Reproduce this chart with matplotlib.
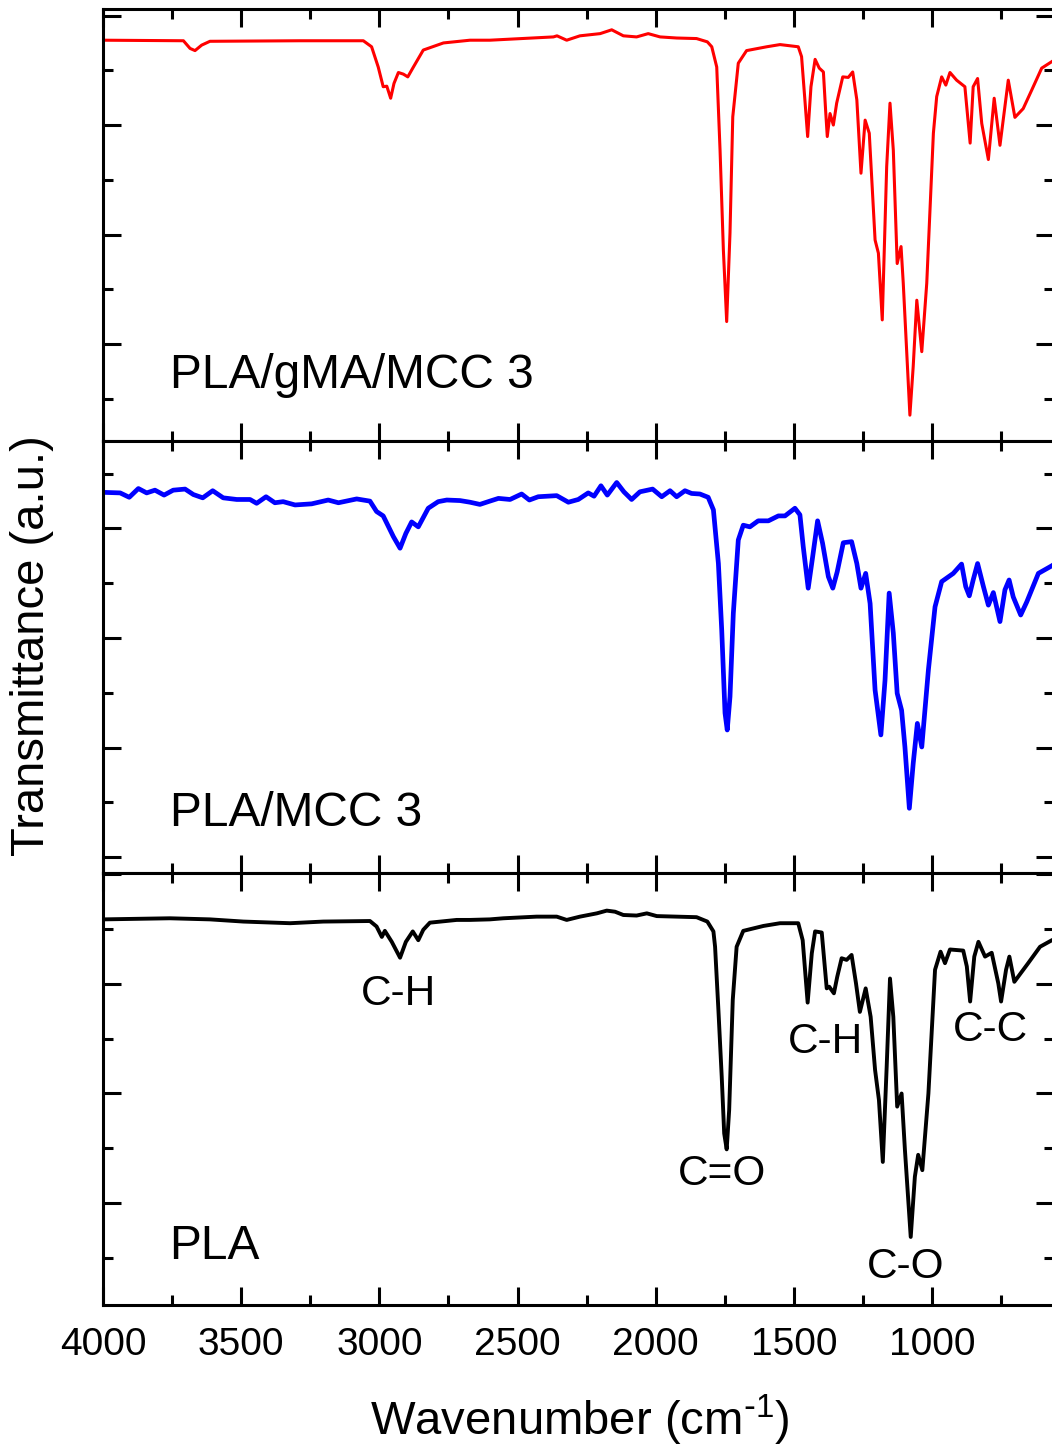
import matplotlib
matplotlib.use("Agg")
import matplotlib.pyplot as plt
from matplotlib.ticker import MultipleLocator

plt.rcParams['font.family'] = ['Liberation Sans', 'DejaVu Sans']

# ---------------- data ----------------
wn_gma = [3999, 3709, 3685, 3667, 3643, 3613, 3287, 3058, 3028, 3004, 2986, 2973, 2959,
          2947, 2931, 2913, 2897, 2879, 2841, 2768, 2672, 2600, 2370, 2357, 2322, 2274,
          2201, 2159, 2117, 2069, 2027, 1984, 1924, 1852, 1813, 1797, 1779, 1767, 1755,
          1743, 1731, 1721, 1701, 1671, 1598, 1550, 1484, 1472, 1460, 1450, 1438, 1423,
          1408, 1393, 1385, 1379, 1369, 1357, 1345, 1323, 1303, 1287, 1272, 1257, 1242,
          1227, 1206, 1194, 1180, 1164, 1152, 1140, 1126, 1112, 1104, 1080, 1068, 1055,
          1037, 1019, 995, 983, 965, 950, 935, 911, 881, 862, 851, 835, 820, 796, 775,
          754, 724, 700, 670, 639, 603, 566, 560]
t_gma = [75.5, 75.4, 74.0, 73.6, 74.6, 75.3, 75.4, 75.4, 74.3, 70.6, 67.0, 67.1, 64.9,
         67.6, 69.6, 69.3, 68.8, 70.4, 73.7, 75.0, 75.5, 75.5, 76.1, 76.3, 75.5, 76.3,
         76.7, 77.4, 76.3, 76.1, 76.7, 76.1, 75.9, 75.8, 75.2, 74.3, 70.6, 55.4, 37.2,
         24.1, 40.3, 61.5, 71.3, 73.6, 74.3, 74.7, 74.3, 72.5, 64.6, 57.9, 67.0, 72.0,
         70.4, 69.7, 62.7, 57.9, 62.1, 60.0, 64.0, 68.8, 68.7, 69.7, 64.6, 51.2, 60.9,
         58.5, 39.0, 36.6, 24.4, 52.4, 64.0, 55.4, 34.7, 37.8, 31.1, 7.0, 15.9, 28.0,
         18.6, 31.1, 58.5, 65.2, 68.8, 67.3, 69.6, 68.2, 67.0, 56.7, 67.0, 68.5, 60.3,
         53.7, 64.9, 56.3, 68.2, 61.4, 63.0, 66.4, 70.4, 71.6, 71.8]

wn_mcc = [3999, 3938, 3905, 3872, 3842, 3812, 3779, 3746, 3703, 3673, 3639, 3603, 3565,
          3516, 3468, 3444, 3410, 3378, 3348, 3305, 3245, 3185, 3148, 3082, 3034, 3010,
          2986, 2949, 2925, 2904, 2883, 2859, 2823, 2787, 2756, 2708, 2672, 2636, 2600,
          2569, 2527, 2485, 2457, 2425, 2358, 2316, 2280, 2244, 2223, 2198, 2175, 2141,
          2115, 2087, 2057, 2011, 1978, 1948, 1924, 1894, 1870, 1840, 1810, 1791, 1773,
          1761, 1749, 1741, 1731, 1719, 1701, 1683, 1659, 1629, 1592, 1556, 1532, 1496,
          1478, 1466, 1448, 1432, 1414, 1396, 1375, 1359, 1343, 1321, 1291, 1272, 1257,
          1240, 1224, 1206, 1185, 1170, 1155, 1140, 1126, 1110, 1098, 1082, 1068, 1053,
          1037, 1013, 989, 965, 923, 893, 878, 865, 851, 835, 814, 796, 778, 754, 736,
          721, 706, 679, 657, 615, 566, 560]
t_mcc = [86.6, 86.5, 85.7, 87.3, 86.5, 87.0, 86.1, 87.0, 87.2, 86.2, 85.6, 86.9, 85.6,
         85.3, 85.3, 84.6, 85.8, 84.7, 84.9, 84.3, 84.5, 85.2, 84.7, 85.4, 85.0, 83.1,
         82.3, 78.5, 76.4, 79.1, 81.2, 80.3, 83.7, 84.9, 85.2, 85.1, 84.8, 84.4, 85.0,
         85.5, 85.3, 86.3, 85.2, 85.8, 86.0, 84.8, 85.3, 86.5, 85.9, 87.8, 86.1, 88.4,
         86.7, 85.3, 86.7, 87.2, 85.8, 86.9, 85.8, 86.9, 86.4, 86.3, 85.7, 83.4, 73.6,
         61.5, 46.3, 43.2, 49.3, 64.5, 77.9, 80.6, 80.3, 81.4, 81.4, 82.3, 82.3, 83.7,
         82.5, 76.7, 69.1, 74.8, 81.4, 77.3, 71.2, 69.1, 72.1, 77.4, 77.6, 73.6, 69.1,
         71.8, 66.3, 50.5, 42.3, 52.3, 68.2, 60.9, 49.9, 46.8, 40.1, 28.9, 37.1, 44.4,
         40.1, 54.2, 65.7, 70.3, 71.8, 73.5, 69.4, 67.7, 70.6, 73.6, 69.4, 66.0, 68.3,
         63.0, 68.8, 70.6, 67.5, 64.2, 66.6, 71.8, 73.2, 73.4]

wn_pla = [3999, 3758, 3613, 3492, 3323, 3203, 3034, 3010, 2991, 2980, 2955, 2925, 2904,
          2879, 2859, 2841, 2817, 2720, 2672, 2600, 2551, 2431, 2358, 2322, 2274, 2213,
          2177, 2147, 2117, 2069, 2032, 1996, 1924, 1852, 1813, 1791, 1785, 1773, 1761,
          1752, 1743, 1734, 1721, 1707, 1683, 1610, 1550, 1484, 1468, 1450, 1435, 1423,
          1399, 1381, 1372, 1355, 1343, 1327, 1309, 1291, 1275, 1261, 1240, 1222, 1206,
          1192, 1178, 1164, 1152, 1140, 1126, 1110, 1098, 1077, 1062, 1050, 1035, 1013,
          989, 969, 953, 935, 887, 874, 862, 847, 832, 808, 784, 760, 750, 732, 720, 702,
          652, 609, 566, 560]
t_pla = [71.8, 72.0, 71.8, 71.4, 71.1, 71.4, 71.5, 70.5, 68.6, 69.7, 67.7, 64.8, 67.7,
         69.6, 68.0, 69.9, 71.2, 71.7, 71.7, 71.8, 72.0, 72.3, 72.3, 71.7, 72.3, 72.9,
         73.4, 73.2, 72.6, 72.5, 72.9, 72.4, 72.3, 72.2, 71.4, 69.6, 66.8, 55.3, 43.1,
         32.7, 29.8, 37.0, 57.1, 66.8, 69.7, 70.6, 71.1, 71.1, 68.0, 56.6, 65.6, 69.6,
         69.4, 59.2, 59.5, 58.3, 61.3, 64.7, 64.4, 65.3, 60.1, 54.9, 59.2, 54.0, 44.3,
         38.8, 27.5, 44.9, 61.0, 54.0, 37.6, 40.0, 29.7, 13.8, 24.8, 28.8, 26.0, 40.0,
         62.6, 65.9, 63.8, 66.3, 66.1, 63.2, 56.8, 65.0, 67.7, 65.0, 65.7, 60.1, 56.8,
         62.6, 65.0, 60.4, 63.8, 66.8, 68.0, 68.1]

panel_names = ["PLA/gMA/MCC 3", "PLA/MCC 3", "PLA"]
panel_colors = ["#ff0000", "#0000ff", "#000000"]
panel_ylims = [(2.28, 81.2), (17.08, 95.98), (1.37, 80.27)]

band_labels = ["C-H", "C=O", "C-H", "C-O", "C-C"]
band_x = [2929, 1760, 1384, 1094, 787]
band_y = [58.2, 25.3, 49.4, 8.3, 51.6]

x_ticks = [4000, 3500, 3000, 2500, 2000, 1500, 1000]

# ---------------- figure ----------------
W, H = 1052, 1449
fig = plt.figure(figsize=(W / 100, H / 100), dpi=100)

xl, xr = 4000, 560
px_per_unit = 829 / 3000
ax_w_px = (xl - xr) * px_per_unit
left = 103 / W
width = ax_w_px / W
tops = [9, 441, 873]
ph = 432

series = [(wn_gma, t_gma), (wn_mcc, t_mcc), (wn_pla, t_pla)]
lws = [2.2, 3.4, 2.8]
label_yfrac = [0.151, 0.137, 0.135]
axes = []
for i in range(3):
    bottom = (H - tops[i] - ph) / H
    ax = fig.add_axes([left, bottom, width, ph / H])
    axes.append(ax)
    x, y = series[i]
    ax.plot(x, y, color=panel_colors[i], lw=lws[i], solid_joinstyle='round')
    ax.set_xlim(xl, xr)
    ax.set_ylim(*panel_ylims[i])
    ax.xaxis.set_major_locator(MultipleLocator(500))
    ax.xaxis.set_minor_locator(MultipleLocator(250))
    ax.yaxis.set_major_locator(MultipleLocator(20))
    ax.yaxis.set_minor_locator(MultipleLocator(10))
    ax.tick_params(which='both', direction='in', top=True, right=True,
                   width=2.2, labelleft=False, labelbottom=(i == 2))
    ax.tick_params(which='major', length=13)
    ax.tick_params(which='minor', length=7.5)
    for s in ax.spines.values():
        s.set_linewidth(2.2)
    ax.text(0.07, label_yfrac[i], panel_names[i], transform=ax.transAxes,
            fontsize=34.5, ha='left', va='center')

axes[2].set_xticks(x_ticks)
axes[2].set_xticklabels([str(v) for v in x_ticks])
axes[2].tick_params(axis='x', which='major', labelsize=28, pad=16)

for lab, bx, by in zip(band_labels, band_x, band_y):
    axes[2].text(bx, by, lab, fontsize=30.5, ha='center', va='center')

fig.text(580 / W, 1 - 1420 / H, "Wavenumber (cm$^{\\mathregular{\\text{-}1}}$)", fontsize=34,
         ha='center', va='center')
fig.text(32 / W, 1 - 646 / H, "Transmittance (a.u.)", fontsize=34, rotation=90,
         ha='center', va='center')

fig.savefig("out.png", dpi=100)
